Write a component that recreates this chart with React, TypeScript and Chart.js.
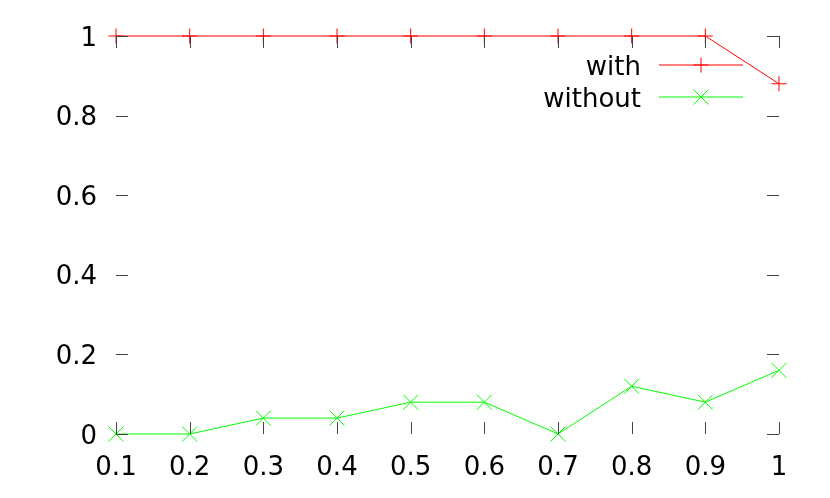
import React, { useEffect, useRef } from "react";
import { Chart, registerables } from "chart.js";

Chart.register(...registerables);

const xValues = [0.1, 0.2, 0.3, 0.4, 0.5, 0.6, 0.7, 0.8, 0.9, 1.0];
const withValues = [1, 1, 1, 1, 1, 1, 1, 1, 1, 0.88];
const withoutValues = [0, 0, 0.04, 0.04, 0.08, 0.08, 0, 0.12, 0.08, 0.16];
const seriesNames = ["with", "without"];
const seriesColors = ["#ff0000", "#00ff00"];
const xTickLabels = ["0.1", "0.2", "0.3", "0.4", "0.5", "0.6", "0.7", "0.8", "0.9", "1"];
const yTickLabels = ["0", "0.2", "0.4", "0.6", "0.8", "1"];

const FONT = "'DejaVu Sans', sans-serif";
const TICK_LEN = 12;
const TICK_COLOR = "#444444";

const mirrorTicksPlugin = {
  id: "mirrorTicks",
  afterDatasetsDraw(chart: any) {
    const { ctx, chartArea, scales } = chart;
    const { left, right, top, bottom } = chartArea;
    ctx.save();
    ctx.strokeStyle = TICK_COLOR;
    ctx.lineWidth = 1;
    ctx.beginPath();
    scales.x.ticks.forEach((t: any) => {
      const px = Math.round(scales.x.getPixelForValue(t.value)) + 0.5;
      ctx.moveTo(px, bottom);
      ctx.lineTo(px, bottom - TICK_LEN);
      ctx.moveTo(px, top);
      ctx.lineTo(px, top + TICK_LEN);
    });
    scales.y.ticks.forEach((t: any) => {
      const py = Math.round(scales.y.getPixelForValue(t.value)) + 0.5;
      ctx.moveTo(left, py);
      ctx.lineTo(left + TICK_LEN, py);
      ctx.moveTo(right, py);
      ctx.lineTo(right - TICK_LEN, py);
    });
    ctx.stroke();

    // y tick labels, vertically centred on the digit height
    ctx.font = `26px ${FONT}`;
    ctx.fillStyle = "#000000";
    ctx.textAlign = "right";
    ctx.textBaseline = "alphabetic";
    scales.y.ticks.forEach((t: any, i: number) => {
      const py = scales.y.getPixelForValue(t.value);
      ctx.fillText(yTickLabels[i], left - 19, py + 9.5);
    });
    ctx.restore();
  },
  afterDraw(chart: any) {
    const { ctx, chartArea } = chart;
    const textRight = chartArea.right - 138;
    const lineStart = chartArea.right - 120;
    const lineEnd = chartArea.right - 36;
    const markX = (lineStart + lineEnd) / 2;
    const rows = [chartArea.top + 29, chartArea.top + 61];
    ctx.save();
    ctx.font = `26px ${FONT}`;
    ctx.fillStyle = "#000000";
    ctx.textAlign = "right";
    ctx.textBaseline = "alphabetic";
    seriesNames.forEach((name, i) => {
      const y = rows[i];
      ctx.fillText(name, textRight, y + 10);
      ctx.strokeStyle = seriesColors[i];
      ctx.lineWidth = 1;
      ctx.beginPath();
      ctx.moveTo(lineStart, y);
      ctx.lineTo(lineEnd, y);
      if (i === 0) {
        ctx.moveTo(markX - 7.5, y);
        ctx.lineTo(markX + 7.5, y);
        ctx.moveTo(markX, y - 7.5);
        ctx.lineTo(markX, y + 7.5);
      } else {
        ctx.moveTo(markX - 7.5, y - 7.5);
        ctx.lineTo(markX + 7.5, y + 7.5);
        ctx.moveTo(markX + 7.5, y - 7.5);
        ctx.lineTo(markX - 7.5, y + 7.5);
      }
      ctx.stroke();
    });
    ctx.restore();
  },
};

export default function App() {
  const canvasRef = useRef<HTMLCanvasElement | null>(null);

  useEffect(() => {
    if (!canvasRef.current) return;
    const chart = new Chart(canvasRef.current, {
      type: "line",
      data: {
        datasets: [
          {
            label: seriesNames[0],
            data: xValues.map((x, i) => ({ x, y: withValues[i] })),
            borderColor: seriesColors[0],
            backgroundColor: seriesColors[0],
            borderWidth: 1,
            pointStyle: "cross",
            pointRadius: 7.5,
            pointBorderWidth: 1,
            pointBorderColor: seriesColors[0],
            tension: 0,
            clip: false as any,
          },
          {
            label: seriesNames[1],
            data: xValues.map((x, i) => ({ x, y: withoutValues[i] })),
            borderColor: seriesColors[1],
            backgroundColor: seriesColors[1],
            borderWidth: 1,
            pointStyle: "crossRot",
            pointRadius: 10.5,
            pointBorderWidth: 1,
            pointBorderColor: seriesColors[1],
            tension: 0,
            clip: false as any,
          },
        ],
      },
      options: {
        animation: false,
        responsive: false,
        maintainAspectRatio: false,
        layout: { padding: { top: 36, right: 51, left: 0, bottom: 0 } },
        plugins: {
          legend: { display: false },
          tooltip: { enabled: false },
        },
        scales: {
          x: {
            type: "linear",
            min: 0.1,
            max: 1,
            grid: { display: false, drawTicks: false },
            border: { display: false },
            afterFit(scale: any) {
              scale.height = 64;
            },
            afterBuildTicks(scale: any) {
              scale.ticks = xValues.map((v) => ({ value: v }));
            },
            ticks: {
              autoSkip: false,
              maxRotation: 0,
              padding: 19,
              color: "#000000",
              font: { family: FONT, size: 26 },
              callback: (_v: any, i: number) => xTickLabels[i],
            },
          },
          y: {
            type: "linear",
            min: 0,
            max: 1,
            grid: { display: false, drawTicks: false },
            border: { display: false },
            afterFit(scale: any) {
              scale.width = 116;
            },
            afterBuildTicks(scale: any) {
              scale.ticks = yTickLabels.map((l) => ({ value: parseFloat(l) }));
            },
            ticks: {
              padding: 19,
              color: "rgba(0,0,0,0)",
              font: { family: FONT, size: 26 },
              callback: (_v: any, i: number) => yTickLabels[i],
            },
          },
        },
      },
      plugins: [mirrorTicksPlugin],
    });
    return () => chart.destroy();
  }, []);

  return (
    <div style={{ position: "fixed", left: 0, top: 0, width: 830, height: 498, background: "#ffffff" }}>
      <canvas ref={canvasRef} width={830} height={498} style={{ display: "block" }} />
    </div>
  );
}
